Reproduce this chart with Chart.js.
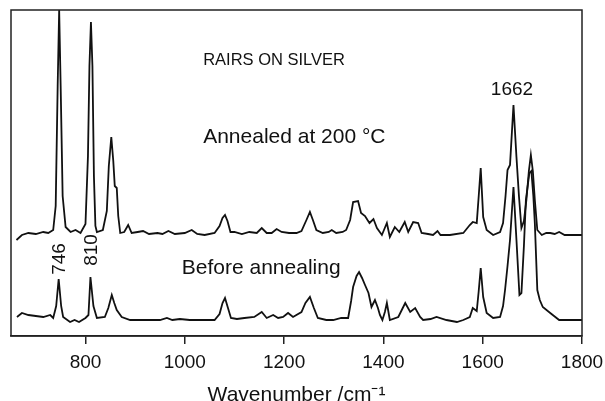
<!DOCTYPE html>
<html>
<head>
<meta charset="utf-8">
<script src="https://cdn.jsdelivr.net/npm/chart.js@4/dist/chart.umd.min.js"></script>
<style>
html, body { margin: 0; padding: 0; background: #fff; }
#wrap { width: 605px; height: 401px; }
</style>
</head>
<body>
<div id="wrap"><canvas id="spectraChart" width="605" height="401"></canvas></div>
<script>
// annealed at 200 C (upper trace)
const annealedWave = [661, 672, 685, 700, 715, 725, 735, 740, 744, 747, 750, 754, 760, 770, 780, 790, 800, 805, 808, 811, 814, 817, 820, 823, 835, 843, 847, 852, 856, 859, 863, 866, 870, 878, 886, 893, 905, 916, 928, 945, 955, 967, 980, 1000, 1014, 1025, 1040, 1060, 1070, 1076, 1081, 1086, 1092, 1100, 1115, 1130, 1145, 1155, 1165, 1175, 1185, 1195, 1210, 1225, 1235, 1245, 1252, 1258, 1265, 1278, 1290, 1296, 1305, 1318, 1325, 1333, 1339, 1349, 1355, 1363, 1368, 1372, 1380, 1387, 1397, 1407, 1413, 1423, 1432, 1443, 1450, 1460, 1470, 1477, 1490, 1500, 1509, 1515, 1534, 1561, 1574, 1580, 1588, 1592, 1596, 1601, 1608, 1621, 1635, 1641, 1646, 1650, 1655, 1662, 1668, 1673, 1678, 1683, 1688, 1693, 1697, 1701, 1705, 1710, 1719, 1728, 1736, 1745, 1754, 1765, 1780, 1800];
const annealedAbs = [96, 101, 103, 102, 104, 103, 106, 130, 250, 326, 250, 140, 109, 104, 106, 103, 112, 180, 270, 314, 270, 160, 110, 104, 106, 125, 170, 199, 175, 150, 148, 120, 103, 104, 111, 103, 104, 105, 102, 103, 102, 105, 102, 103, 106, 102, 101, 103, 110, 118, 121, 115, 104, 104, 102, 104, 103, 108, 103, 103, 107, 104, 103, 103, 105, 116, 124, 116, 106, 103, 104, 106, 103, 104, 106, 116, 134, 135, 123, 120, 116, 113, 117, 108, 101, 113, 99, 109, 104, 114, 104, 114, 113, 103, 102, 101, 105, 101, 101, 103, 111, 114, 113, 140, 168, 119, 106, 101, 104, 113, 140, 166, 171, 231, 179, 140, 108, 115, 136, 165, 181, 165, 136, 106, 101, 103, 103, 102, 104, 101, 101, 101];

// before annealing (lower trace)
const beforeWave = [662, 672, 685, 700, 715, 729, 735, 741, 746, 751, 755, 769, 778, 787, 800, 806, 810, 816, 823, 839, 846, 853, 858, 863, 873, 890, 920, 950, 964, 975, 990, 1010, 1060, 1070, 1076, 1081, 1087, 1093, 1105, 1120, 1140, 1155, 1165, 1178, 1188, 1198, 1208, 1218, 1235, 1243, 1252, 1260, 1268, 1285, 1299, 1315, 1329, 1335, 1339, 1346, 1351, 1357, 1363, 1370, 1376, 1383, 1389, 1393, 1398, 1403, 1407, 1413, 1430, 1438, 1444, 1454, 1464, 1474, 1480, 1495, 1507, 1527, 1548, 1561, 1574, 1580, 1588, 1592, 1596, 1601, 1608, 1621, 1635, 1641, 1645, 1650, 1655, 1662, 1668, 1674, 1678, 1683, 1687, 1694, 1698, 1702, 1705, 1710, 1715, 1721, 1736, 1754, 1774, 1800];
const beforeAbs = [19, 23, 21, 20, 19, 21, 18, 30, 57, 30, 19, 14, 16, 14, 18, 21, 59, 30, 18, 19, 28, 41, 33, 26, 19, 16, 16, 16, 18, 16, 17, 16, 16, 22, 33, 38, 28, 18, 17, 18, 19, 24, 18, 21, 18, 19, 23, 19, 24, 33, 39, 28, 18, 16, 16, 18, 18, 35, 49, 60, 64, 58, 51, 43, 29, 36, 28, 21, 16, 24, 33, 16, 19, 27, 33, 24, 28, 19, 16, 17, 19, 16, 14, 16, 19, 28, 25, 45, 68, 39, 23, 18, 19, 30, 46, 70, 96, 149, 96, 41, 43, 90, 136, 163, 165, 140, 113, 46, 36, 29, 23, 16, 16, 16];

const xTicks = [800, 1000, 1200, 1400, 1600, 1800];

const notes = [
    { text: "RAIRS ON SILVER", x: 1037, y: 276, size: 16.5, align: "left", rot: 0 },
    { text: "Annealed at 200 \u00B0C", x: 1037, y: 199, size: 21, align: "left", rot: 0 },
    { text: "1662", x: 1659, y: 246, size: 19, align: "center", rot: 0 },
    { text: "Before annealing", x: 994, y: 68, size: 21, align: "left", rot: 0 },
    { text: "746", x: 749, y: 77, size: 19, align: "center", rot: -Math.PI / 2 },
    { text: "810", x: 813, y: 86, size: 19, align: "center", rot: -Math.PI / 2 }
];

const toPoints = (xs, ys) => xs.map((x, i) => ({ x: x, y: ys[i] }));

const framePlugin = {
    id: "frameAndNotes",
    afterDraw(chart) {
        const ctx = chart.ctx;
        const area = chart.chartArea;
        const xs = chart.scales.x;
        const ys = chart.scales.y;
        ctx.save();
        ctx.strokeStyle = "#222";
        ctx.lineWidth = 1.5;
        ctx.strokeRect(area.left, area.top, area.right - area.left, area.bottom - area.top);
        ctx.fillStyle = "#111";
        ctx.textBaseline = "middle";
        notes.forEach(n => {
            ctx.save();
            ctx.font = n.size + "px 'Liberation Sans', Arial, sans-serif";
            ctx.textAlign = n.align;
            ctx.translate(xs.getPixelForValue(n.x), ys.getPixelForValue(n.y));
            ctx.rotate(n.rot);
            ctx.fillText(n.text, 0, 0);
            ctx.restore();
        });
        ctx.restore();
    }
};

const spectraCtx = document.getElementById("spectraChart");

new Chart(spectraCtx, {
    type: "line",
    data: {
        datasets: [{
            label: "Annealed at 200 °C",
            data: toPoints(annealedWave, annealedAbs),
            borderColor: "#111",
            borderWidth: 1.8,
            pointRadius: 0,
            tension: 0
        }, {
            label: "Before annealing",
            data: toPoints(beforeWave, beforeAbs),
            borderColor: "#111",
            borderWidth: 1.8,
            pointRadius: 0,
            tension: 0
        }]
    },
    options: {
        responsive: false,
        animation: false,
        layout: {
            padding: { left: 11, right: 0, top: 10, bottom: 0 }
        },
        plugins: {
            legend: { display: false },
            tooltip: { enabled: false }
        },
        scales: {
            x: {
                type: "linear",
                min: 650,
                max: 1800,
                afterBuildTicks: scale => {
                    scale.ticks = xTicks.map(v => ({ value: v }));
                },
                afterFit: scale => {
                    scale.height = 65;
                    scale.paddingRight = 23;
                },
                grid: {
                    drawOnChartArea: false,
                    drawTicks: true,
                    tickLength: 8,
                    color: "#222",
                    lineWidth: 1.5
                },
                border: { display: true, color: "#222", width: 1.5 },
                ticks: {
                    color: "#111",
                    padding: 7,
                    maxRotation: 0,
                    callback: v => String(v),
                    font: { family: "'Liberation Sans', Arial, sans-serif", size: 19 }
                },
                title: {
                    display: true,
                    text: "Wavenumber /cm\u207B\u00B9",
                    color: "#111",
                    padding: { top: 0, bottom: -7 },
                    font: { family: "'Liberation Sans', Arial, sans-serif", size: 21 }
                }
            },
            y: {
                display: false,
                min: 0,
                max: 326
            }
        }
    },
    plugins: [framePlugin]
});
</script>
</body>
</html>
